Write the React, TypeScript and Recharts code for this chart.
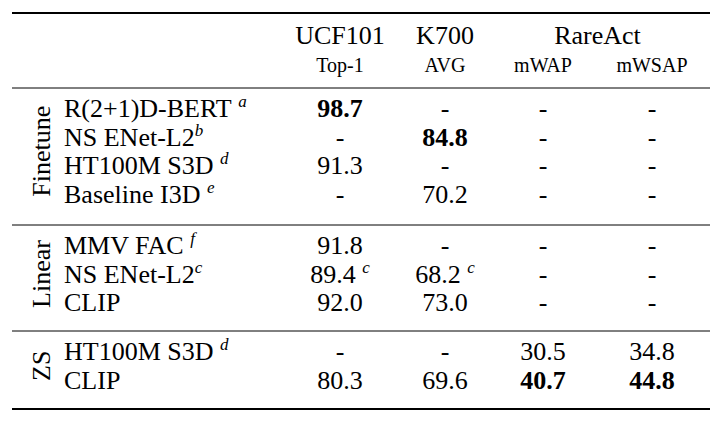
import React from 'react';
import { ScatterChart, Scatter, XAxis, YAxis, ReferenceLine } from 'recharts';

// table content
const groups = ['Finetune', 'Linear', 'ZS'];
const groupSizes = [4, 3, 2];
const datasets = ['UCF101', 'K700', 'RareAct'];
const metrics = ['Top-1', 'AVG', 'mWAP', 'mWSAP'];
const methods = [
  'R(2+1)D-BERT',
  'NS ENet-L2',
  'HT100M S3D',
  'Baseline I3D',
  'MMV FAC',
  'NS ENet-L2',
  'CLIP',
  'HT100M S3D',
  'CLIP',
];
const methodRefs = ['a', 'b', 'd', 'e', 'f', 'c', '', 'd', ''];
const methodRefSpaced = [true, false, true, true, true, false, false, true, false];

const ucf101Top1 = [98.7, null, 91.3, null, 91.8, 89.4, 92.0, null, 80.3];
const k700Avg = [null, 84.8, null, 70.2, null, 68.2, 73.0, null, 69.6];
const rareActMWAP = [null, null, null, null, null, null, null, 30.5, 40.7];
const rareActMWSAP = [null, null, null, null, null, null, null, 34.8, 44.8];

// [row, column]
const boldCells = [[0, 0], [1, 1], [8, 2], [8, 3]];
const cellRefs = [
  { row: 5, col: 0, ref: 'c' },
  { row: 5, col: 1, ref: 'c' },
];

// layout
const W = 723;
const H = 421;
const FONT = '"Liberation Serif", "DejaVu Serif", serif';
const BODY = 26;
const SMALL = 20;
const SUP = 17;
const RULE_L = 12;
const RULE_R = 710;
const TOP_RULE = 13;
const sectionRules = [88, 225, 331];
const BOTTOM_RULE = 409;
const FIRST_OFFSET = 29;
const PITCH = 28.5;
const HEAD1_Y = 44;
const HEAD2_Y = 72;
const groupX = 41;
const methodX = 64;
const colX = [340, 445, 543, 652];

const columns = [ucf101Top1, k700Avg, rareActMWAP, rareActMWSAP];

const rowY: number[] = [];
groupSizes.forEach((n, g) => {
  for (let i = 0; i < n; i++) rowY.push(sectionRules[g] + FIRST_OFFSET + i * PITCH);
});

type Mark = {
  x: number;
  y: number;
  label: string;
  size: number;
  anchor: 'start' | 'middle';
  bold?: boolean;
  sup?: string;
  rotate?: boolean;
};

const marks: Mark[] = [];

let start = 0;
groups.forEach((g, i) => {
  const first = rowY[start];
  const last = rowY[start + groupSizes[i] - 1];
  marks.push({ x: groupX, y: (first + last) / 2 - 8.5, label: g, size: BODY, anchor: 'middle', rotate: true });
  start += groupSizes[i];
});

const headX = [colX[0], colX[1], (colX[2] + colX[3]) / 2];
datasets.forEach((d, i) => marks.push({ x: headX[i], y: HEAD1_Y, label: d, size: BODY, anchor: 'middle' }));
metrics.forEach((m, i) => marks.push({ x: colX[i], y: HEAD2_Y, label: m, size: SMALL, anchor: 'middle' }));

methods.forEach((m, r) =>
  marks.push({
    x: methodX,
    y: rowY[r],
    label: m + (methodRefs[r] && methodRefSpaced[r] ? '\u00a0' : ''),
    size: BODY,
    anchor: 'start',
    sup: methodRefs[r] || undefined,
  })
);

columns.forEach((col, c) =>
  col.forEach((v, r) => {
    const ref = cellRefs.find((e) => e.row === r && e.col === c);
    marks.push({
      x: colX[c],
      y: rowY[r],
      label: v == null ? '-' : v.toFixed(1) + (ref ? '\u00a0' : ''),
      size: BODY,
      anchor: 'middle',
      bold: boldCells.some(([br, bc]) => br === r && bc === c),
      sup: ref ? ref.ref : undefined,
    });
  })
);

const TextMark = (props: any) => {
  const { cx, cy, payload } = props;
  const p = payload as Mark;
  return (
    <text
      x={cx}
      y={cy}
      dy={p.rotate ? '0.34em' : 0}
      textAnchor={p.anchor}
      transform={p.rotate ? `rotate(-90, ${cx}, ${cy})` : undefined}
      fill="#000"
      style={{ fontFamily: FONT, fontSize: p.size, fontWeight: p.bold ? 700 : 400 }}
    >
      {p.label}
      {p.sup && (
        <tspan dy={-10} style={{ fontStyle: 'italic', fontWeight: 400, fontSize: SUP }}>
          {p.sup}
        </tspan>
      )}
    </text>
  );
};

const hRule = (y: number, w: number, key: string) => (
  <ReferenceLine
    key={key}
    segment={[{ x: RULE_L, y }, { x: RULE_R, y }]}
    stroke="#000"
    strokeWidth={w}
    ifOverflow="visible"
  />
);

export default function App() {
  return (
    <div style={{ position: 'absolute', left: 0, top: 0, background: '#fff' }}>
      <ScatterChart width={W} height={H} margin={{ top: 0, right: 0, bottom: 0, left: 0 }}>
        <XAxis type="number" dataKey="x" domain={[0, W]} hide />
        <YAxis type="number" dataKey="y" domain={[0, H]} reversed hide />
        {hRule(TOP_RULE, 2, 'top')}
        {hRule(sectionRules[0], 1, 'head')}
        {hRule(sectionRules[1], 1, 's1')}
        {hRule(sectionRules[2], 1, 's2')}
        {hRule(BOTTOM_RULE, 2, 'bottom')}
        <Scatter data={marks} shape={TextMark} isAnimationActive={false} />
      </ScatterChart>
    </div>
  );
}
